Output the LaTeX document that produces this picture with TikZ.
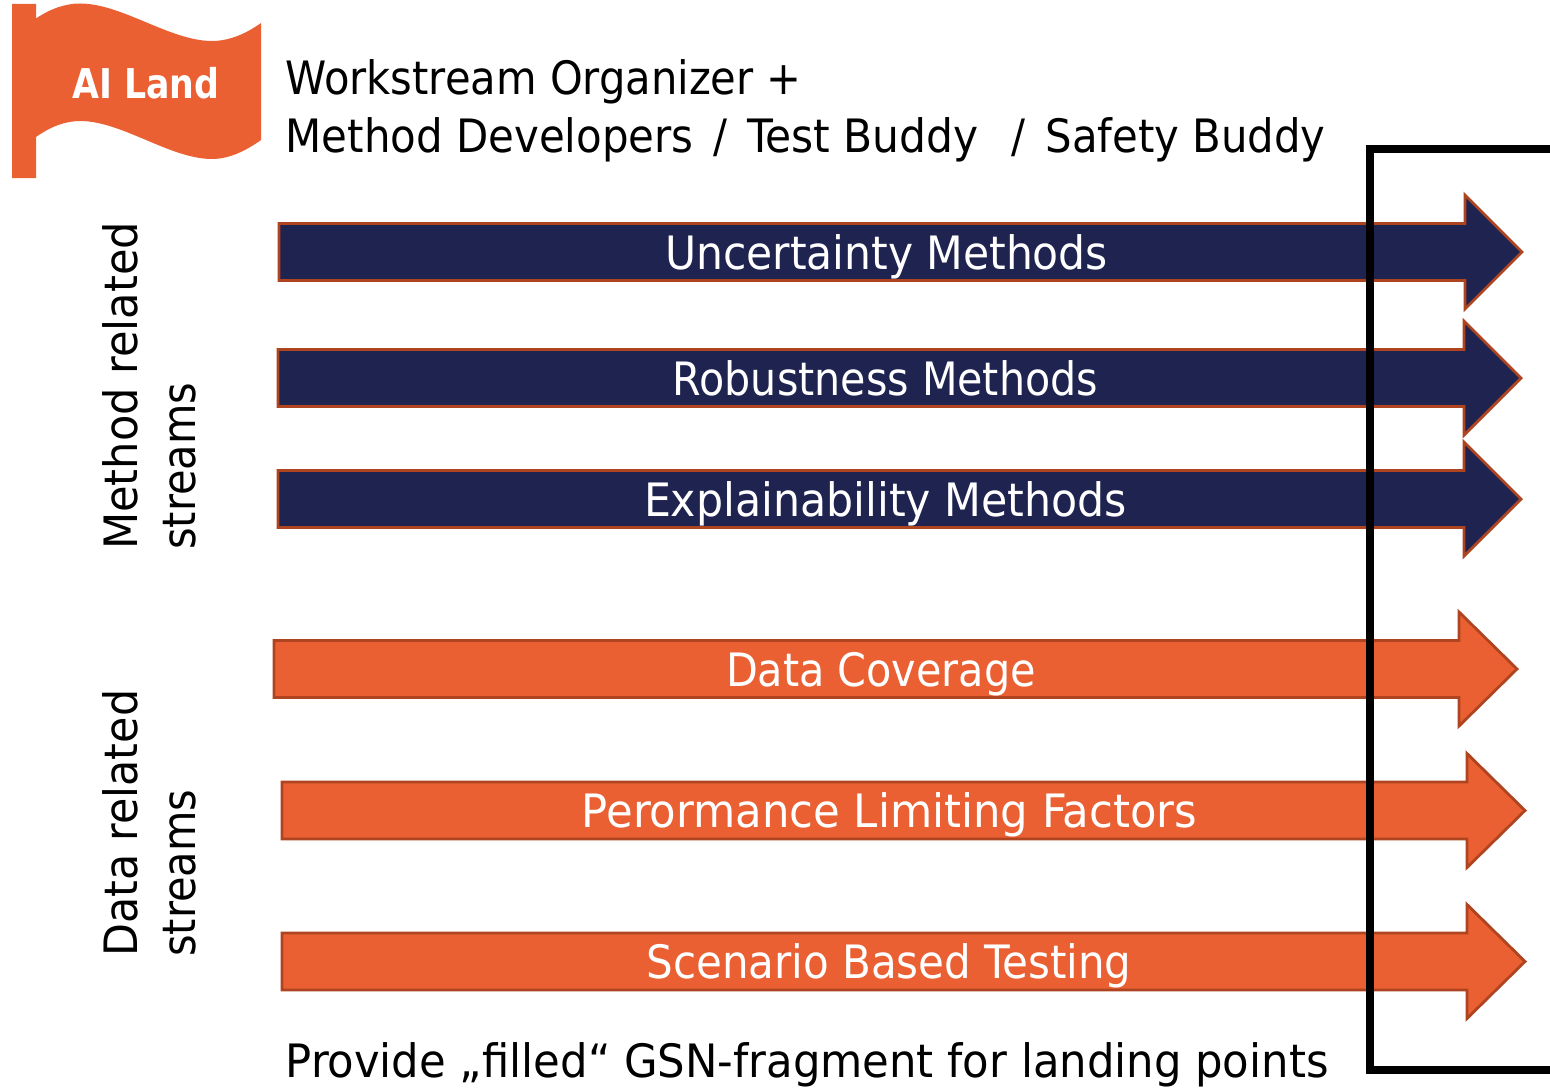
\documentclass[tikz,border=0pt]{standalone}
\usepackage{fontspec}
\usepackage{graphicx}
\setmainfont{DejaVu Sans Condensed}
\definecolor{navy}{HTML}{1F2350}
\definecolor{flagor}{HTML}{EA6033}
\definecolor{edgeor}{HTML}{AE4420}
\newcommand{\fitw}[2]{\resizebox{#1pt}{\height}{#2}}
\newcommand{\streamarrow}[9]{%
  \path[streamshape,fill=#6] (#2,#5-28.5) -- (#3,#5-28.5) -- (#3,#5-57) -- (#4,#5) -- (#3,#5+57) -- (#3,#5+28.5) -- (#2,#5+28.5) -- cycle;
  \node[streamlabel] (#1) at (#7,#5+17) {\fitw{#9}{#8}};
}
\tikzset{
  x=1pt,y=-1pt,
  streamshape/.style={draw=edgeor,line width=2.8pt,line join=miter},
  streamlabel/.style={text=white,font=\fontsize{46}{52}\selectfont,inner sep=0pt,anchor=base},
  plaintext/.style={text=black,font=\fontsize{46}{52}\selectfont,inner sep=0pt,anchor=base west},
  sidelabel/.style={text=black,font=\fontsize{46}{52}\selectfont,inner sep=0pt,rotate=90,anchor=base west},
  framebox/.style={draw=black,line width=8pt,line join=miter},
}
\begin{document}
\begin{tikzpicture}
\useasboundingbox (0,0) rectangle (1550,1089);
% flag
\fill[flagor] (12,4) -- (36,4) -- (36,18.5)
  .. controls (50,9) and (65,3.5) .. (80,3.5)
  .. controls (122,3.5) and (170,41) .. (212,41)
  .. controls (230,41) and (247,33) .. (261,23)
  -- (261,140)
  .. controls (247,150) and (230,159) .. (212,159)
  .. controls (170,159) and (122,121) .. (80,121)
  .. controls (65,121) and (50,127) .. (36,137)
  -- (36,178) -- (12,178) -- cycle;
\node[text=white,font=\fontsize{41}{46}\selectfont\bfseries,inner sep=0pt,anchor=base] (flag) at (146,99) {\fitw{147}{AI Land}};
% headings
\node[plaintext] (head1) at (285.5,95) {\fitw{516}{Workstream Organizer +}};
\node[plaintext] (head2) at (285.5,153) {\fitw{408}{Method Developers}\hspace{20pt}/\hspace{20pt}\fitw{231}{Test Buddy}\hspace{33pt}/\hspace{20pt}\fitw{280}{Safety Buddy}};
\node[plaintext] (foot) at (285.5,1077) {\fitw{1043}{Provide „filled“ GSN-fragment for landing points}};
% side labels
\node[sidelabel] (side1a) at (137,550) {\fitw{328}{Method related}};
\node[sidelabel] (side1b) at (195,550) {\fitw{167}{streams}};
\node[sidelabel] (side2a) at (137,957) {\fitw{267}{Data related}};
\node[sidelabel] (side2b) at (195,957) {\fitw{167}{streams}};
% arrows
\streamarrow{a1}{279}{1465}{1522}{252}{navy}{886.5}{Uncertainty Methods}{443}
\streamarrow{a2}{278}{1464}{1521}{378}{navy}{885.5}{Robustness Methods}{425}
\streamarrow{a3}{278}{1464}{1521}{499}{navy}{885.5}{Explainability Methods}{483}
\streamarrow{a4}{274}{1459}{1517}{669}{flagor}{881}{Data Coverage}{310}
\streamarrow{a5}{282}{1467}{1525}{810.5}{flagor}{889.5}{Perormance Limiting Factors}{615}
\streamarrow{a6}{282}{1467}{1525}{961.5}{flagor}{889}{Scenario Based Testing}{485}
% frame
\draw[framebox] (1550,149) -- (1370,149) -- (1370,1070) -- (1550,1070);
\end{tikzpicture}
\end{document}
